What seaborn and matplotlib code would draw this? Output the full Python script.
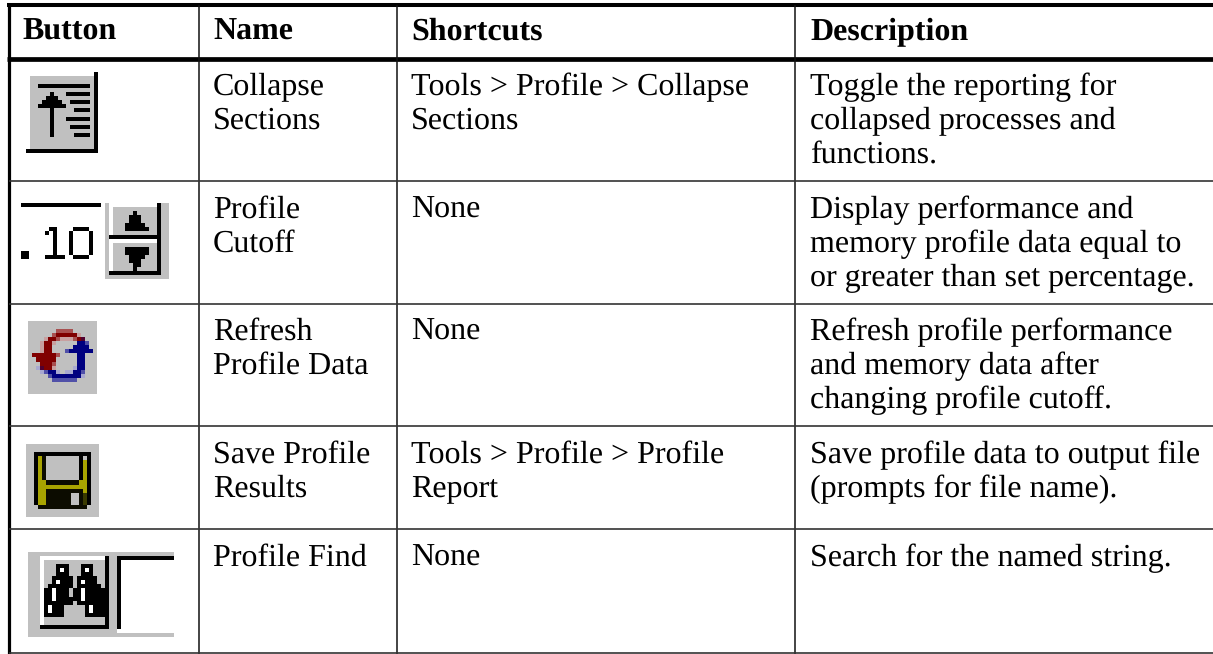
import numpy as np
import matplotlib.pyplot as plt
from matplotlib.colors import to_rgb
import seaborn as sns

# table text, one list per column
headers = ['Button', 'Name', 'Shortcuts', 'Description']
names = ['Collapse\nSections', 'Profile\nCutoff', 'Refresh\nProfile Data',
         'Save Profile\nResults', 'Profile Find']
shortcuts = ['Tools > Profile > Collapse\nSections', 'None', 'None',
             'Tools > Profile > Profile\nReport', 'None']
descriptions = ['Toggle the reporting for\ncollapsed processes and\nfunctions.',
                'Display performance and\nmemory profile data equal to\nor greater than set percentage.',
                'Refresh profile performance\nand memory data after\nchanging profile cutoff.',
                'Save profile data to output file\n(prompts for file name).',
                'Search for the named string.']

# table rules in image pixels
col_lines = [198.5, 397, 795]
row_lines = [181, 304, 426, 529, 653]
col_text = [22, 213, 411, 810]
row_text = [95, 218, 340, 463, 566]

# button icons as small bitmaps
colors = {'.': '#c0c0c0', ' ': '#ffffff', '#': '#000000', 'y': '#a8a400', 'd': '#0c0c00', 'D': '#3a3a00',
          'r': '#800000', 'R': '#a85050', 'p': '#c8a0a0', 'm': '#500030',
          'b': '#000080', 'B': '#5050a8', 'q': '#a8a8d0'}

icon_collapse = [
    '                 #',
    ' ................#',
    ' ................#',
    ' ..#############.#',
    ' ................#',
    ' .....#...######.#',
    ' ....###.........#',
    ' ...#####..#####.#',
    ' ..#######.......#',
    ' .....#.....####.#',
    ' .....#..........#',
    ' .....#...######.#',
    ' .....#..........#',
    ' .....#....#####.#',
    ' .....#..........#',
    ' .....#.....####.#',
    ' ................#',
    ' ................#',
    ' ................#',
    '##################',
]

cutoff_digits = [
    '####################',
    '                    ',
    '                    ',
    '                    ',
    '                    ',
    '                    ',
    '       ##    ####   ',
    '      # #   #    #  ',
    '        #   #    #  ',
    '        #   #    #  ',
    '        #   #    #  ',
    '        #   #    #  ',
    '##      #   #    #  ',
    '##    #####  ####   ',
    '                    ',
    '                    ',
    '                    ',
    '                    ',
    '                    ',
]
cutoff_spinner = [
    '.            #..',
    '. ...........#..',
    '. .....#.....#..',
    '. ....###....#..',
    '. ....###....#..',
    '. ...#####...#..',
    '. ...######..#..',
    '. ...........#..',
    '.#############..',
    '.            #..',
    '. ...........#..',
    '. ...######..#..',
    '. ...######..#..',
    '. ....####...#..',
    '. ....###....#..',
    '. .....##....#..',
    '. .....#.....#..',
    '.#############..',
    '................',
]
icon_cutoff = [a + ' ' + b for a, b in zip(cutoff_digits, cutoff_spinner)]

icon_refresh = [
    '.................',
    '.................',
    '.......RRRR......',
    '......Rrrrrrp....',
    '....prrRpppRrm...',
    '...prrp.....bbB..',
    '...prr.....bbbb..',
    '...prr...Bbbbbbb.',
    '.rrrrrrR....bb...',
    '..rrrrr.....bb...',
    '...rrrR.....bb...',
    '..qmrrp....qbb...',
    '...qBbbq.qqbbB...',
    '.....Bbbbbbbbq...',
    '......BBBBBB.....',
    '.................',
    '.................',
    '.................',
]

icon_save = [
    '..................',
    '..................',
    '..##############..',
    '..#yd........#.#..',
    '..#yd........#y#..',
    '..#yd........#y#..',
    '..#yd........#y#..',
    '..#yd........#y#..',
    '..#yd........#y#..',
    '..#yyddddddddyy#..',
    '..#yyyyyyyyyyyy#..',
    '..#yydddddddddy#..',
    '..#yydddddd..dD#..',
    '..#yydddddd..dD#..',
    '..#yydddddd..dD#..',
    '...dddddddddddd...',
    '..................',
    '..................',
]

find_glass = [
    '...............',
    '...###...###...',
    '...# #...# #...',
    '...###...###...',
    '..#####.#####..',
    '..# ###.# ###..',
    '.######.######.',
    '## ###.## #####',
    '## ###.## #####',
    '## ###### #####',
    '#######.#######',
    '# ###.....# ###',
    '# ###.....# ###',
    '#####.....#####',
    '...............',
    '...............',
]
box_side = '#..#' + ' ' * 13
icon_find = (['.' * 36, '...' + ' ' * 16 + '#..' + '#' * 14]
             + ['... ' + g + box_side for g in find_glass]
             + ['...' + '#' * 17 + '..#' + ' ' * 13, '.' * 22 + ' ' * 14, '.' * 36])

# pixel box of every icon: left, right, top, bottom
icon_boxes = [(26, 98, 72, 153), (21, 169, 203, 279), (28, 97, 321, 394),
              (26, 99, 444, 517), (28, 174, 552, 637)]
icons = [icon_collapse, icon_cutoff, icon_refresh, icon_save, icon_find]


def to_image(rows):
    return np.array([[to_rgb(colors[c]) for c in r] for r in rows])


sns.set_theme(style='white')
plt.rcParams['font.family'] = ['Liberation Serif', 'DejaVu Serif']
plt.rcParams['text.hinting'] = 'no_hinting'
plt.rcParams['text.hinting_factor'] = 1

fig = plt.figure(figsize=(12.13, 6.54), dpi=100)
ax = fig.add_axes([0, 0, 1, 1])

for rows, (x0, x1, y0, y1) in zip(icons, icon_boxes):
    ax.imshow(to_image(rows), extent=(x0, x1, y1, y0), aspect='auto', interpolation='nearest')
ax.set_xlim(0, 1213)
ax.set_ylim(654, 0)
ax.axis('off')

# rules
ax.hlines(5, 7, 1213, color='black', lw=2.9)
ax.hlines(58.5, 7, 1213, color='black', lw=3.4)
ax.vlines(8.5, 3, 654, color='black', lw=2.3)
ax.vlines(col_lines, 5, 654, color='#111111', lw=1.1)
ax.hlines(row_lines, 9, 1213, color='#333333', lw=1.2)

size = 23
for x, h in zip(col_text, headers):
    ax.text(x, 40, h, fontsize=size, fontweight='bold', color='black', va='baseline')

for col, x in zip([names, shortcuts, descriptions], col_text[1:]):
    for val, y in zip(col, row_text):
        for i, line in enumerate(val.split('\n')):
            ax.text(x, y + 34 * i, line, fontsize=size, color='black', va='baseline')

sns.despine(fig=fig, left=True, bottom=True)
fig.savefig('out.png', dpi=100)
plt.close(fig)
